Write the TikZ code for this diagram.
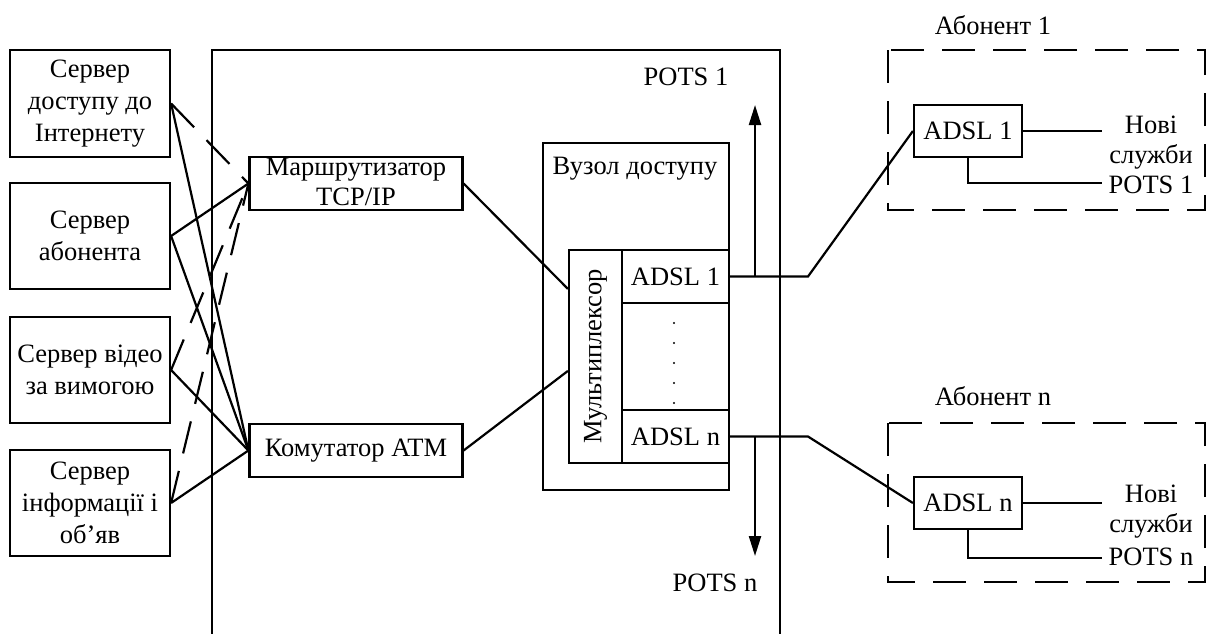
\documentclass[tikz,border=0pt]{standalone}
\usepackage{fontspec}
\setmainfont{Liberation Serif}
\usetikzlibrary{arrows.meta,calc}
\begin{document}
\begin{tikzpicture}[x=1pt,y=-1pt,
  every node/.style={font=\fontsize{26.5}{32}\selectfont, inner sep=0pt},
  box/.style={draw, line width=2.2pt, align=center},
  ln/.style={line width=2.2pt},
  dsh/.style={line width=2.2pt, dash pattern=on 33pt off 18pt},
  arr/.style={line width=2.2pt, -{Triangle[length=20pt,width=12pt]}},
  txt/.style={align=center},
  tight/.style={align=center, font=\fontsize{26.5}{30}\selectfont}]
\useasboundingbox (0,0) rectangle (1206,633);

% servers
\node[box, minimum width=160, minimum height=107] (s1) at (90,103.5) {Сервер\\доступу до\\Інтернету};
\node[box, minimum width=160, minimum height=106] (s2) at (90,236) {Сервер\\абонента};
\node[box, minimum width=160, minimum height=106] (s3) at (90,370) {Сервер відео\\за вимогою};
\node[box, minimum width=160, minimum height=106] (s4) at (90,503) {Сервер\\інформації і\\об’яв};

% big frame
\draw[ln] (212,640) -- (212,50) -- (780,50) -- (780,640);
\node (pots1) at (686,77) {POTS 1};
\node (potsn) at (715,583) {POTS n};

% router and switch
\node[box, minimum width=213, minimum height=53,
  label={[tight,yshift=2pt]center:Маршрутизатор\\TCP/IP}] (r) at (356,183.5) {};
\node[box, minimum width=213, minimum height=53] (sw) at (356,450.5) {Комутатор ATM};

% access node
\node[box, minimum width=186, minimum height=347] (vz) at (636,316.5) {};
\node (vzt) at (635,169) {Вузол доступу};
\node[box, minimum width=53, minimum height=213,
  label={[rotate=90]center:Мультиплексор}] (mx) at (595.5,356.5) {};
\node[box, minimum width=107, minimum height=53] (c1) at (675.5,276.5) {ADSL 1};
\node[box, minimum width=107, minimum height=53] (cn) at (675.5,436.5) {ADSL n};
\foreach \yy in {323,343,363,383,403} \fill (674,\yy) circle (1.2);

% left connections
\draw[dsh] (s1.east) -- (r.west);
\draw[ln] (s2.east) -- (r.west);
\draw[dsh] (s3.east) -- (r.west);
\draw[dsh] (s4.east) -- (r.west);
\draw[ln] (s1.east) -- (sw.west);
\draw[ln] (s2.east) -- (sw.west);
\draw[ln] (s3.east) -- (sw.west);
\draw[ln] (s4.east) -- (sw.west);
\draw[ln] (r.east) -- ([yshift=-40pt]mx.north west);
\draw[ln] (sw.east) -- ([yshift=-122pt]mx.north west);

% subscribers
\node (ab1) at (993,25) {Абонент 1};
\node (abn) at (993,396) {Абонент n};
\draw[dsh] (888,50) rectangle (1205,210);
\draw[dsh] (888,423) rectangle (1205,582);
\node[box, minimum width=108, minimum height=52] (a1) at (968,131) {ADSL 1};
\node[box, minimum width=108, minimum height=52] (an) at (968,503) {ADSL n};
\node[tight] (nv1) at (1151,143) {Нові\\служби};
\node (p1) at (1151,185) {POTS 1};
\node[tight] (nvn) at (1151,512) {Нові\\служби};
\node (pn) at (1151,557) {POTS n};
\coordinate (e1) at (1102,131);
\coordinate (f1) at (1102,183);
\coordinate (en) at (1102,503);
\coordinate (fn) at (1102,558);
\draw[ln] (a1.east) -- (e1);
\draw[ln] (a1.south) |- (f1);
\draw[ln] (an.east) -- (en);
\draw[ln] (an.south) |- (fn);

% lines to subscribers
\coordinate (k1) at (808,276.5);
\coordinate (kn) at (808,436.5);
\draw[ln] (c1.east) -- (k1) -- (a1.west);
\draw[ln] (cn.east) -- (kn) -- (an.west);
\coordinate (u1) at (755,276.5);
\coordinate (u1e) at (755,105);
\coordinate (d1) at (755,436.5);
\coordinate (d1e) at (755,556);
\draw[arr] (u1) -- (u1e);
\draw[arr] (d1) -- (d1e);
\end{tikzpicture}
\end{document}
